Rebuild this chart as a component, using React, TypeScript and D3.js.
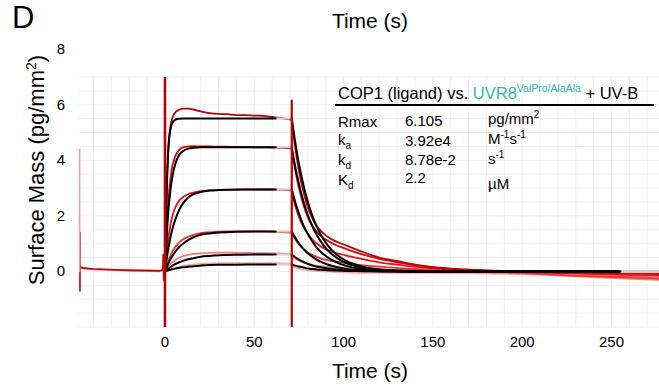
import React from "react";
import * as d3 from "d3";

// ---------- data ----------
const xTicks = [0, 50, 100, 150, 200, 250];
const yTicks = [0, 2, 4, 6, 8];

// fitted association (black)
const fitAssocT = [0, 1, 2, 3, 4, 6, 8, 10, 13, 16, 20, 25, 30, 40, 50, 62];
const fitAssoc1 = [0, 3.0, 4.55, 5.1, 5.33, 5.47, 5.5, 5.51, 5.51, 5.51, 5.51, 5.51, 5.51, 5.51, 5.51, 5.51];
const fitAssoc2 = [0, 1.3, 2.26, 2.9, 3.36, 3.92, 4.2, 4.33, 4.42, 4.45, 4.47, 4.47, 4.47, 4.47, 4.47, 4.47];
const fitAssoc3 = [0, 0.47, 0.87, 1.21, 1.49, 1.91, 2.22, 2.44, 2.66, 2.78, 2.86, 2.91, 2.93, 2.95, 2.95, 2.95];
const fitAssoc4 = [0, 0.16, 0.3, 0.43, 0.54, 0.73, 0.88, 1.0, 1.13, 1.23, 1.32, 1.37, 1.4, 1.43, 1.44, 1.44];
const fitAssoc5 = [0, 0.06, 0.11, 0.16, 0.2, 0.27, 0.33, 0.38, 0.44, 0.48, 0.53, 0.56, 0.58, 0.6, 0.61, 0.61];
const fitAssoc6 = [0, 0.02, 0.04, 0.06, 0.077, 0.105, 0.13, 0.15, 0.17, 0.19, 0.21, 0.23, 0.24, 0.245, 0.25, 0.25];

// fitted dissociation (black)
const fitDissT = [71, 73, 75, 77, 79, 81, 84, 87, 91, 96, 101, 111, 121, 131, 151, 255];
const fitDiss1 = [5.51, 4.62, 3.88, 3.26, 2.73, 2.29, 1.76, 1.35, 0.95, 0.61, 0.4, 0.17, 0.07, 0.03, 0, 0];
const fitDiss2 = [4.47, 3.75, 3.15, 2.64, 2.21, 1.86, 1.43, 1.1, 0.77, 0.5, 0.32, 0.13, 0.05, 0.02, 0, 0];
const fitDiss3 = [2.95, 2.48, 2.08, 1.74, 1.46, 1.23, 0.94, 0.72, 0.51, 0.33, 0.21, 0.09, 0.04, 0.01, 0, 0];
const fitDiss4 = [1.44, 1.21, 1.01, 0.85, 0.71, 0.6, 0.46, 0.35, 0.25, 0.16, 0.1, 0.04, 0.02, 0.01, 0, 0];
const fitDiss5 = [0.61, 0.51, 0.43, 0.36, 0.3, 0.25, 0.19, 0.15, 0.11, 0.07, 0.04, 0.02, 0.01, 0, 0, 0];
const fitDiss6 = [0.25, 0.21, 0.18, 0.15, 0.12, 0.1, 0.08, 0.06, 0.04, 0.03, 0.02, 0.01, 0, 0, 0, 0];
const fitGreyAssocT = [62, 71];
const fitGreyDissT = [255, 277];

// measured association (red)
const dataAssocT = [0, 0.5, 1, 2, 3, 4, 5, 6, 8, 10, 13, 16, 20, 25, 30, 35, 40, 45, 50, 55, 60, 65, 71];
const dataAssoc1 = [0, 1.6, 2.9, 4.5, 5.2, 5.5, 5.65, 5.74, 5.82, 5.86, 5.86, 5.83, 5.76, 5.7, 5.67, 5.66, 5.63, 5.63, 5.61, 5.6, 5.56, 5.52, 5.46];
const dataAssoc2 = [0, 0.8, 1.5, 2.6, 3.3, 3.75, 4.0, 4.18, 4.38, 4.47, 4.5, 4.51, 4.5, 4.5, 4.49, 4.49, 4.48, 4.48, 4.47, 4.47, 4.46, 4.45, 4.42];
const dataAssoc3 = [0, 0.35, 0.7, 1.25, 1.65, 1.95, 2.17, 2.33, 2.55, 2.67, 2.78, 2.84, 2.89, 2.92, 2.93, 2.94, 2.94, 2.95, 2.95, 2.95, 2.95, 2.94, 2.92];
const dataAssoc4 = [0, 0.1, 0.2, 0.4, 0.56, 0.7, 0.8, 0.9, 1.05, 1.15, 1.25, 1.32, 1.38, 1.41, 1.43, 1.44, 1.44, 1.44, 1.44, 1.44, 1.43, 1.42, 1.4];
const dataAssoc5 = [0, 0.04, 0.08, 0.2, 0.27, 0.33, 0.38, 0.42, 0.5, 0.55, 0.6, 0.63, 0.65, 0.67, 0.68, 0.68, 0.67, 0.67, 0.66, 0.66, 0.65, 0.64, 0.62];
const dataAssoc6 = [0, 0.01, 0.03, 0.06, 0.08, 0.1, 0.12, 0.13, 0.16, 0.2, 0.23, 0.25, 0.27, 0.29, 0.3, 0.3, 0.3, 0.3, 0.3, 0.3, 0.3, 0.29, 0.28];

// measured dissociation (red)
const dataDissT = [71, 72, 74, 76, 78, 80, 83, 86, 90, 95, 101, 110, 120, 131, 145, 160, 180, 200, 230, 255, 277];
const dataDiss1 = [5.46, 4.9, 4.0, 3.3, 2.75, 2.3, 1.85, 1.55, 1.3, 1.1, 0.95, 0.72, 0.5, 0.36, 0.2, 0.1, 0.04, 0.0, -0.03, -0.04, -0.05];
const dataDiss2 = [4.42, 4.0, 3.3, 2.75, 2.3, 1.95, 1.6, 1.35, 1.15, 0.97, 0.82, 0.62, 0.45, 0.32, 0.18, 0.09, 0.03, 0.0, -0.05, -0.07, -0.1];
const dataDiss3 = [2.92, 2.6, 2.15, 1.8, 1.55, 1.35, 1.12, 0.95, 0.8, 0.68, 0.58, 0.45, 0.33, 0.24, 0.14, 0.07, 0.02, -0.02, -0.08, -0.12, -0.15];
const dataDiss4 = [1.4, 1.25, 1.05, 0.9, 0.78, 0.68, 0.58, 0.5, 0.42, 0.36, 0.3, 0.23, 0.17, 0.12, 0.07, 0.03, 0, -0.05, -0.15, -0.2, -0.25];
const dataDiss5 = [0.62, 0.5, 0.42, 0.36, 0.31, 0.27, 0.23, 0.2, 0.17, 0.14, 0.12, 0.09, 0.07, 0.05, 0.03, 0.0, -0.03, -0.08, -0.18, -0.25, -0.3];
const dataDiss6 = [0.28, 0.18, 0.12, 0.08, 0.06, 0.04, 0.02, 0.01, 0, -0.02, -0.03, -0.05, -0.05, -0.05, -0.05, -0.06, -0.08, -0.1, -0.15, -0.18, -0.2];

// baseline before injection
const baseT = [-47.6, -46, -40, -30, -20, -10, -3, -1.2, -0.9, -0.6, -0.3, 0];
const baseV = [0.16, 0.12, 0.09, 0.06, 0.04, 0.03, 0.02, 0.05, 0.6, -0.3, 0.1, 0];
const startSpikeT = [-47.6, -47.8];
const startSpikeLow = [-0.7, 0];
const startSpikeHigh = [1.4, 4.4];
const injectionT = [0, 71];
const injectionTop = [7, 6.15];

const curveColors = ["#c00000", "#d10a0a", "#e8101c", "#f03030", "#f77a7a", "#f9a8a8"];
const curveWidths = [1.8, 1.8, 1.8, 1.8, 1.8, 1.8];

const fitAssoc = [fitAssoc1, fitAssoc2, fitAssoc3, fitAssoc4, fitAssoc5, fitAssoc6];
const fitDiss = [fitDiss1, fitDiss2, fitDiss3, fitDiss4, fitDiss5, fitDiss6];
const dataAssoc = [dataAssoc1, dataAssoc2, dataAssoc3, dataAssoc4, dataAssoc5, dataAssoc6];
const dataDiss = [dataDiss1, dataDiss2, dataDiss3, dataDiss4, dataDiss5, dataDiss6];

// ---------- layout ----------
const W = 659;
const H = 389;
const plot = { left: 78, right: 659, top: 77, bottom: 327 };
const FONT = "Liberation Sans, Arial, Helvetica, sans-serif";

export default function App() {
  const x = d3.scaleLinear().domain([-48.7, 276.6]).range([plot.left, plot.right]);
  const y = d3.scaleLinear().domain([-2, 7]).range([plot.bottom, plot.top]);

  const smooth = d3
    .line<[number, number]>()
    .x((d) => x(d[0]))
    .y((d) => y(d[1]))
    .curve(d3.curveMonotoneX);
  const straight = d3
    .line<[number, number]>()
    .x((d) => x(d[0]))
    .y((d) => y(d[1]));

  const zip = (t: number[], v: number[]) => t.map((tt, i) => [tt, v[i]] as [number, number]);

  const gridX = d3.range(-40, 277, 10);
  const gridY = d3.range(-2, 7.01, 0.5);

  const order = [5, 4, 3, 2, 1, 0];

  return (
    <svg width={W} height={H} style={{ display: "block", position: "absolute", left: 0, top: 0 }} fontFamily={FONT}>
      <defs>
        <clipPath id="plotclip">
          <rect x={plot.left} y={plot.top} width={plot.right - plot.left} height={plot.bottom - plot.top} />
        </clipPath>
      </defs>
      <rect x={0} y={0} width={W} height={H} fill="#ffffff" />

      {/* grid */}
      <g stroke="#ececec" strokeWidth={0.8}>
        {gridX.map((g) => (
          <line key={"gx" + g} x1={x(g)} x2={x(g)} y1={plot.top} y2={plot.bottom} />
        ))}
        {gridY.map((g) => (
          <line key={"gy" + g} x1={plot.left} x2={plot.right} y1={y(g)} y2={y(g)} />
        ))}
      </g>

      <g clipPath="url(#plotclip)" fill="none" strokeLinejoin="round" strokeLinecap="round">
        {/* baseline */}
        <path d={straight(zip(baseT, baseV)) || ""} stroke="#f4a0a0" strokeWidth={2.5} />
        <path d={straight(zip(baseT, baseV)) || ""} stroke="#c00000" strokeWidth={1.6} />
        {startSpikeT.map((t, i) => (
          <path
            key={"ss" + i}
            d={straight([[t, startSpikeLow[i]], [t, startSpikeHigh[i]]]) || ""}
            stroke={i === 0 ? "#c00000" : "#f7a0a0"}
            strokeWidth={1.6}
          />
        ))}

        {/* measured data */}
        {order.map((i) => (
          <g key={"data" + i}>
            <path d={smooth(zip(dataAssocT, dataAssoc[i])) || ""} stroke={curveColors[i]} strokeWidth={curveWidths[i]} />
            <path d={smooth(zip(dataDissT, dataDiss[i])) || ""} stroke={curveColors[i]} strokeWidth={curveWidths[i]} />
          </g>
        ))}

        {/* fits */}
        {order.map((i) => (
          <g key={"fit" + i}>
            <path
              d={straight(zip(fitGreyAssocT, [fitAssoc[i][fitAssoc[i].length - 1], fitAssoc[i][fitAssoc[i].length - 1]])) || ""}
              stroke="#cfcfcf"
              strokeWidth={2}
            />
            <path
              d={straight(zip(fitGreyDissT, [0, 0])) || ""}
              stroke="#cfcfcf"
              strokeWidth={2}
            />
            <path d={smooth(zip(fitAssocT, fitAssoc[i])) || ""} stroke="#000000" strokeWidth={2} />
            <path d={smooth(zip(fitDissT, fitDiss[i])) || ""} stroke="#000000" strokeWidth={2} />
          </g>
        ))}

        {/* injection artefacts */}
        {injectionT.map((t, i) => (
          <path
            key={"inj" + i}
            d={straight([[t, -2.5], [t, injectionTop[i]]]) || ""}
            stroke="#c00000"
            strokeWidth={i === 0 ? 2.6 : 2.2}
          />
        ))}
      </g>

      {/* axes labels */}
      <g fontSize={15} fill="#000">
        {xTicks.map((t) => (
          <text key={"xt" + t} x={x(t)} y={347} textAnchor="middle">
            {t}
          </text>
        ))}
        {yTicks.map((t) => (
          <text key={"yt" + t} x={61} y={y(t) + 5} textAnchor="middle">
            {t}
          </text>
        ))}
      </g>

      <text x={370} y={378} fontSize={21} textAnchor="middle">Time (s)</text>
      <text x={370} y={28} fontSize={21} textAnchor="middle">Time (s)</text>
      <text x={12} y={28} fontSize={31}>D</text>
      <text transform={`translate(44, 170) rotate(-90)`} fontSize={22} textAnchor="middle">
        Surface Mass (pg/mm<tspan dy={-8} fontSize={14}>2</tspan><tspan dy={8}>)</tspan>
      </text>

      {/* legend table */}
      <g fontSize={15} fill="#000">
        <text x={338} y={99} fontSize={16.5}>
          COP1 (ligand) vs. <tspan fill="#35b8b0">UVR8</tspan>
          <tspan fill="#35b8b0" fontSize={10.5} dy={-7}>ValPro/AlaAla</tspan>
          <tspan dy={7}> + UV-B</tspan>
        </text>
        <line x1={335} x2={654} y1={105} y2={105} stroke="#000" strokeWidth={2} />

        <text x={338} y={127}>Rmax</text>
        <text x={338} y={145}>k<tspan fontSize={10} dy={4}>a</tspan></text>
        <text x={338} y={165}>k<tspan fontSize={10} dy={4}>d</tspan></text>
        <text x={338} y={185}>K<tspan fontSize={10} dy={4}>d</tspan></text>

        <text x={405} y={126}>6.105</text>
        <text x={405} y={146}>3.92e4</text>
        <text x={405} y={165}>8.78e-2</text>
        <text x={405} y={183}>2.2</text>

        <text x={488} y={124}>pg/mm<tspan fontSize={10} dy={-6}>2</tspan></text>
        <text x={488} y={144}>M<tspan fontSize={10} dy={-6}>-1</tspan><tspan dy={6}>s</tspan><tspan fontSize={10} dy={-6}>-1</tspan></text>
        <text x={488} y={164}>s<tspan fontSize={10} dy={-6}>-1</tspan></text>
        <text x={488} y={189}>µM</text>
      </g>
    </svg>
  );
}
